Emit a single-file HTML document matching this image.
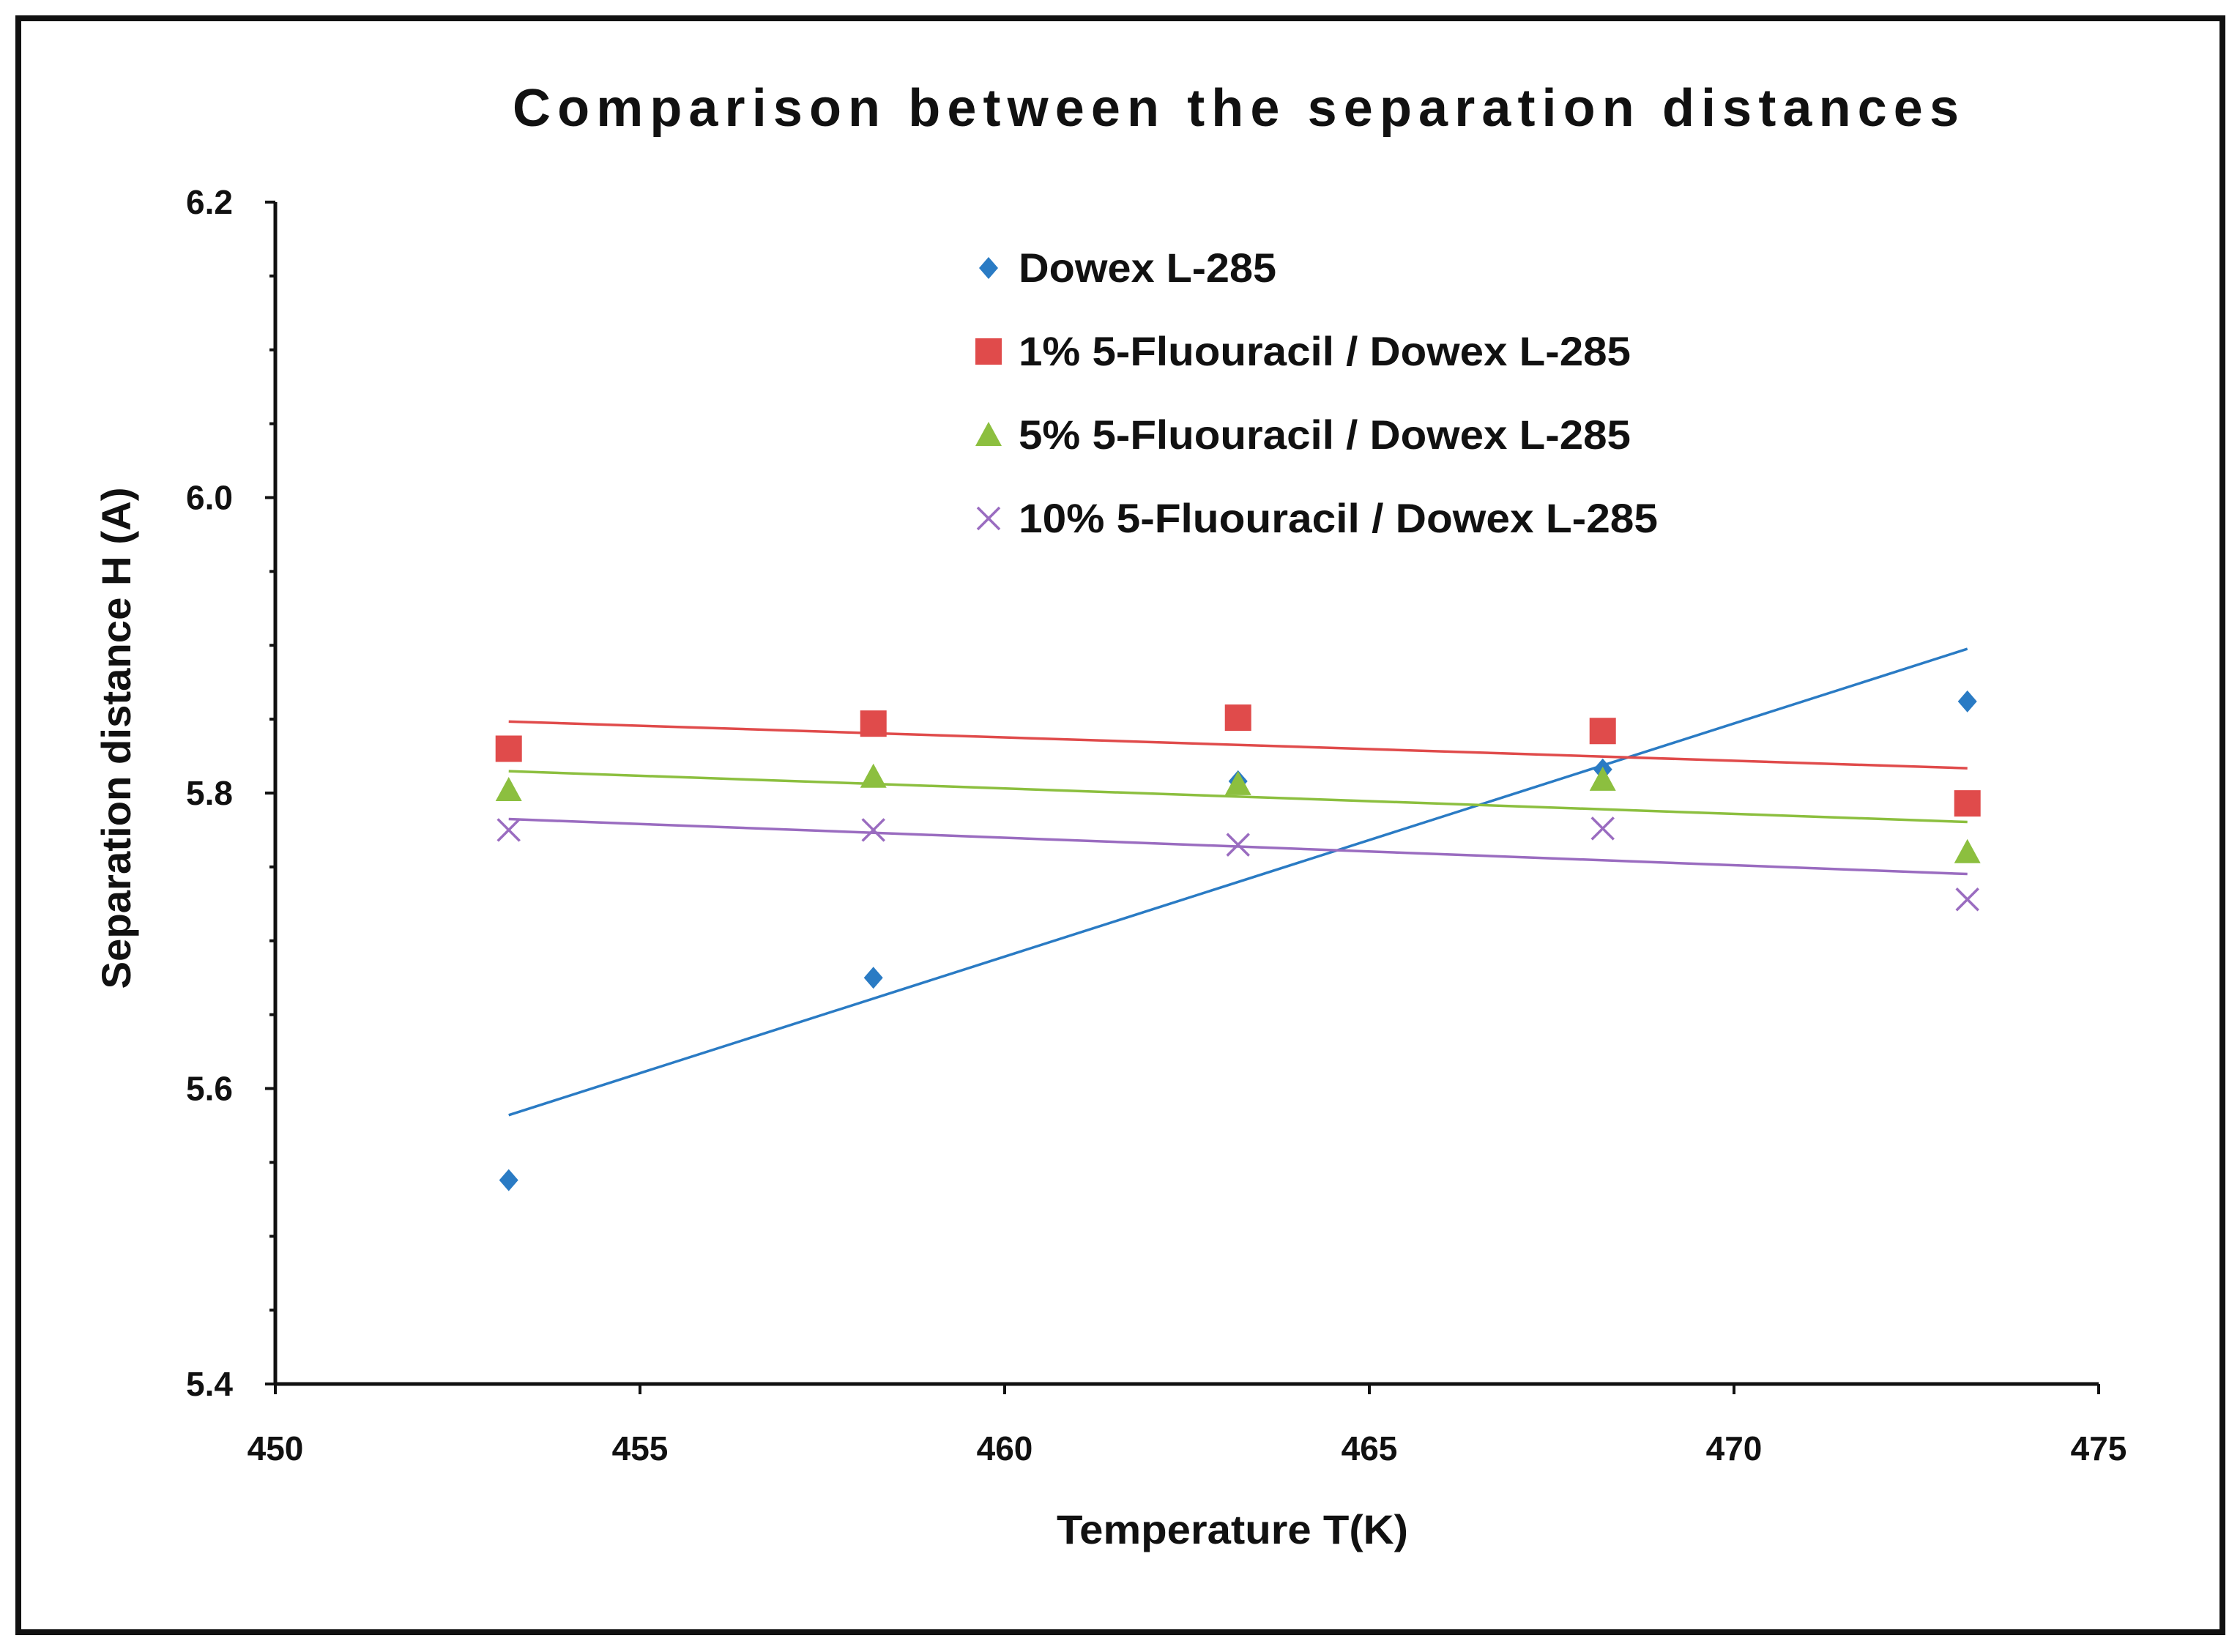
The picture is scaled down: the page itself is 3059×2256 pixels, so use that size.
<!DOCTYPE html>
<html><head><meta charset="utf-8"><style>
html,body{margin:0;padding:0;background:#fff}
svg{display:block}
text{font-family:"Liberation Sans",sans-serif;font-weight:bold;fill:#111}
</style></head><body>
<svg id="chart" width="3059" height="2256" viewBox="0 0 3059 2256" xmlns="http://www.w3.org/2000/svg">
<rect x="25" y="25" width="3010" height="2204" fill="#fff" stroke="#111" stroke-width="8"/>
<text x="700" y="172" font-size="72" textLength="1975" lengthAdjust="spacing">Comparison between the separation distances</text>
<g id="grid"></g>
<g id="marks"></g>
<text x="1683" y="2108" font-size="56" text-anchor="middle" textLength="480" lengthAdjust="spacingAndGlyphs">Temperature T(K)</text>
<text x="0" y="0" font-size="56" text-anchor="middle" textLength="685" lengthAdjust="spacingAndGlyphs" transform="translate(178,1008) rotate(-90)">Separation distance H (A)</text>
<g id="legend"></g>
</svg>
<script>
const xTicks=[450,455,460,465,470,475];
const yTicks=[5.4,5.6,5.8,6.0,6.2];
const yTickLabels=["5.4","5.6","5.8","6.0","6.2"];
const temps=[453.2,458.2,463.2,468.2,473.2];
const seriesNames=["Dowex L-285","1% 5-Fluouracil / Dowex L-285","5% 5-Fluouracil / Dowex L-285","10% 5-Fluouracil / Dowex L-285"];
const dowex=[5.538,5.675,5.808,5.816,5.862];
const f1=[5.830,5.847,5.851,5.842,5.793];
const f5=[5.802,5.811,5.806,5.809,5.760];
const f10=[5.775,5.775,5.765,5.776,5.728];
const NS="http://www.w3.org/2000/svg";
const X0=376,X1=2866,Y0=1890,Y1=276;
const xs=v=>X0+(v-450)/25*(X1-X0);
const ys=v=>Y0-(v-5.4)/0.8*(Y0-Y1);
function mk(tag,attrs,parent){const e=document.createElementNS(NS,tag);for(const k in attrs)e.setAttribute(k,attrs[k]);parent.appendChild(e);return e;}
const grid=document.getElementById('grid'),marks=document.getElementById('marks'),legend=document.getElementById('legend');
let a=mk('line',{x1:X0,y1:Y0,x2:X1,y2:Y0,stroke:'#111','stroke-width':5},grid);

a=mk('line',{x1:X0,y1:Y0,x2:X0,y2:Y1,stroke:'#111','stroke-width':5},grid);

xTicks.forEach(v=>{mk('line',{x1:xs(v),y1:Y0,x2:xs(v),y2:Y0+14,stroke:'#111','stroke-width':4},grid);
 const t=mk('text',{x:xs(v),y:1994,'font-size':46,'text-anchor':'middle'},grid);t.textContent=String(v);
 });
for(let i=0;i<=16;i++){const v=5.4+i*0.05;mk('line',{x1:X0-8,y1:ys(v),x2:X0,y2:ys(v),stroke:'#111','stroke-width':4},grid);}
yTicks.forEach((v,i)=>{mk('line',{x1:X0-14,y1:ys(v),x2:X0,y2:ys(v),stroke:'#111','stroke-width':4},grid);
 const t=mk('text',{x:318,y:ys(v)+16,'font-size':46,'text-anchor':'end'},grid);t.textContent=yTickLabels[i];
 });
const colors=['#2a7bc4','#e04b4b','#8cbf3f','#9a6cc0'];
const legendWidths=[352,836,836,873];
const data=[dowex,f1,f5,f10];
function marker(kind,cx,cy,col,parent){
 if(kind===0)return mk('polygon',{points:`${cx},${cy-15} ${cx+13},${cy} ${cx},${cy+15} ${cx-13},${cy}`,fill:col},parent);
 if(kind===1)return mk('rect',{x:cx-18,y:cy-18,width:36,height:36,fill:col},parent);
 if(kind===2)return mk('polygon',{points:`${cx},${cy-18} ${cx+18},${cy+15} ${cx-18},${cy+15}`,fill:col},parent);
 const g=mk('g',{stroke:col,'stroke-width':3.5},parent);
 mk('line',{x1:cx-15,y1:cy-15,x2:cx+15,y2:cy+15},g);mk('line',{x1:cx-15,y1:cy+15,x2:cx+15,y2:cy-15},g);return g;}
data.forEach((ser,si)=>{
 const n=temps.length,mx=temps.reduce((s,v)=>s+v,0)/n,my=ser.reduce((s,v)=>s+v,0)/n;
 let sxy=0,sxx=0;temps.forEach((t,i)=>{sxy+=(t-mx)*(ser[i]-my);sxx+=(t-mx)*(t-mx);});
 const b=sxy/sxx,f=t=>my+b*(t-mx);
 const ln=mk('line',{x1:xs(temps[0]),y1:ys(f(temps[0])),x2:xs(temps[n-1]),y2:ys(f(temps[n-1])),stroke:colors[si],'stroke-width':3.5},marks);
 
 ser.forEach((v,i)=>{const m=marker(si,xs(temps[i]),ys(v),colors[si],marks);
  });
 const ly=366+si*114;
 const lm=marker(si,1350,ly,colors[si],legend);
 
 const lt=mk('text',{x:1391,y:ly+19,'font-size':56,textLength:legendWidths[si],lengthAdjust:'spacingAndGlyphs'},legend);lt.textContent=seriesNames[si];
 
});
</script>
</body></html>
